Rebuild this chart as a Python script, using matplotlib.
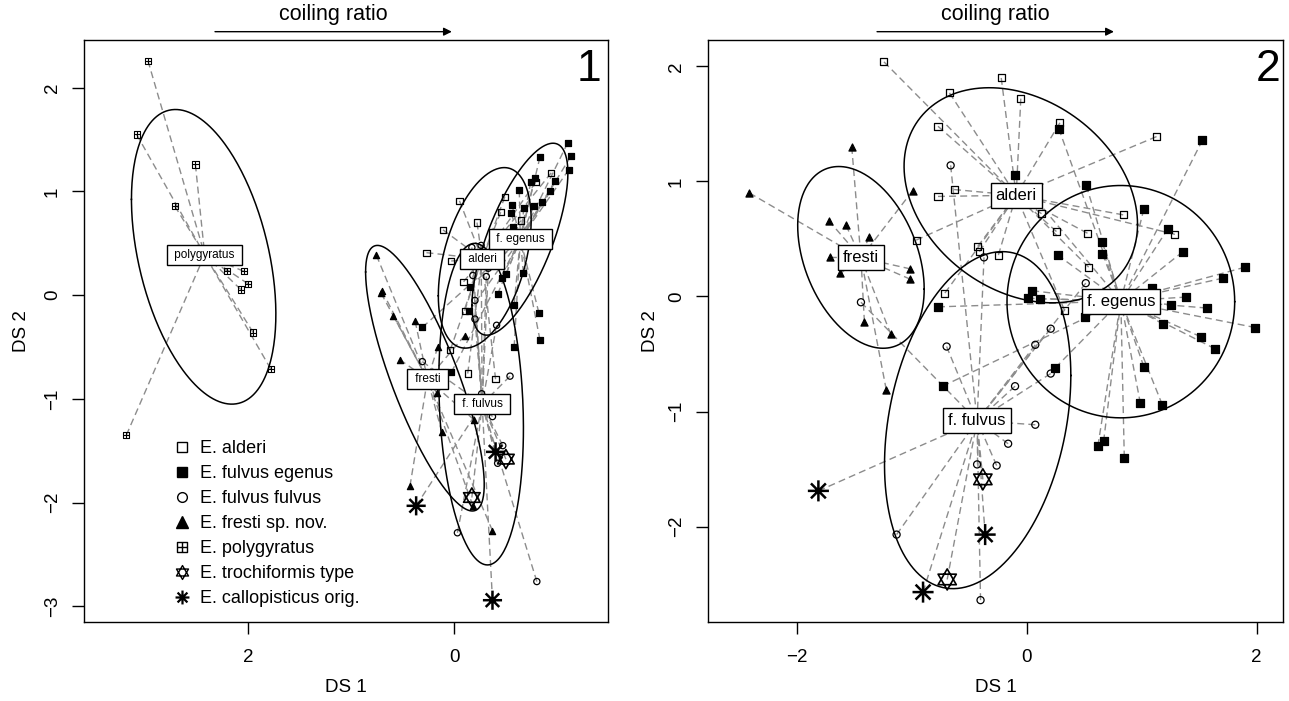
import numpy as np
import matplotlib
matplotlib.use("Agg")
import matplotlib.pyplot as plt
from matplotlib.path import Path
from matplotlib.lines import Line2D

plt.rcParams['font.family'] = ['Liberation Sans', 'DejaVu Sans']

## Panel 1 values
p1_alderi_x = [-0.94, -0.79, -0.49, -0.45, -0.05, -0.22, 0.11, -0.65, 0.27, 0.03, -0.09, -0.10, 0.04, -0.13, -0.40]
p1_alderi_y = [1.18, 1.09, 0.95, 0.80, 0.91, 0.70, 0.63, 0.72, 0.41, 0.33, 0.13, -0.15, -0.53, -0.755, -0.81]
p1_egenus_x = [-1.10, -1.13, -1.11, -0.83, -0.78, -0.74, -0.975, -0.93, -0.63, -0.56, -0.55, -0.77, -0.675, -0.85,
               -0.57, -0.15, -0.145, -0.46, -0.50, -0.67, -0.42, -0.58, -0.82, -0.83, -0.58, 0.31, 0.03]
p1_egenus_y = [1.47, 1.34, 1.21, 1.33, 1.13, 1.09, 1.10, 1.00, 1.01, 0.865, 0.79, 0.86, 0.845, 0.90,
               0.66, 0.08, -0.15, 0.17, 0.20, 0.215, 0.01, -0.09, -0.17, -0.43, -0.50, -0.31, -0.745]
p1_fulvus_x = [-0.18, -0.31, -0.33, -0.20, -0.20, -0.41, -0.17, -0.26, 0.31, -0.54, -0.265, -0.37, -0.47, -0.42, -0.03, -0.80]
p1_fulvus_y = [0.19, 0.18, 0.26, -0.05, -0.23, -0.29, 0.46, 0.48, -0.64, -0.78, -0.95, -1.17, -1.45, -1.62, -2.29, -2.76]
p1_fresti_x = [0.755, 0.70, 0.71, 0.59, 0.38, 0.53, 0.16, -0.10, 0.17, -0.19, 0.12, 0.43, -0.18, -0.37]
p1_fresti_y = [0.385, 0.04, 0.02, -0.20, -0.25, -0.62, -0.50, -0.39, -0.94, -1.20, -1.32, -1.84, -2.03, -2.27]
p1_poly_x = [2.97, 3.08, 2.51, 2.71, 2.20, 2.04, 2.00, 2.07, 1.95, 1.78, 3.18]
p1_poly_y = [2.26, 1.55, 1.26, 0.86, 0.23, 0.23, 0.11, 0.055, -0.36, -0.71, -1.35]
p1_troch_x = [-0.50, -0.17]
p1_troch_y = [-1.58, -1.95]
p1_callo_x = [-0.40, 0.37, -0.37]
p1_callo_y = [-1.51, -2.03, -2.94]
# group centroids (where the labels sit)
p1_centroids = {'polygyratus': (2.42, 0.39), 'fresti': (0.26, -0.81), 'alderi': (-0.27, 0.35),
                'egenus': (-0.64, 0.54), 'fulvus': (-0.27, -1.05)}
# ellipses: centre x, centre y, half width, half height, tilt (x shift of top point / half width)
p1_ellipses = [(2.43, 0.37, 0.70, 1.42, 0.39), (0.285, -0.80, 0.575, 1.28, 0.80), (-0.295, 0.36, 0.45, 0.87, -0.42),
               (-0.636, 0.54, 0.465, 0.925, -0.69), (-0.26, -1.05, 0.41, 1.55, 0.15)]

## Panel 2 values
p2_alderi_x = [-1.24, -0.22, -0.67, -0.05, -0.77, 0.29, 1.13, -0.63, -0.77, 0.84, 0.13, 0.26, 0.53, 1.29, -0.96,
               -0.425, -0.41, -0.245, 0.54, -0.71, 0.33]
p2_alderi_y = [2.04, 1.90, 1.77, 1.72, 1.48, 1.51, 1.39, 0.93, 0.87, 0.71, 0.72, 0.565, 0.55, 0.54, 0.49,
               0.435, 0.39, 0.36, 0.255, 0.03, -0.12]
p2_egenus_x = [-0.10, 0.28, 1.53, 0.52, 1.02, 1.23, 1.36, 0.66, 0.66, 0.27, 1.90, 1.71, 0.05, 0.01, 0.115, 1.09, 1.39,
               1.255, 1.565, 1.99, 0.51, 1.19, 1.515, -0.77, 1.64, 0.25, 1.02, -0.73, 0.99, 1.18, 0.62, 0.67, 0.85]
p2_egenus_y = [1.06, 1.46, 1.36, 0.965, 0.76, 0.59, 0.39, 0.47, 0.37, 0.36, 0.255, 0.16, 0.05, -0.015, -0.02, 0.075, -0.005,
               -0.07, -0.10, -0.27, -0.18, -0.24, -0.35, -0.09, -0.455, -0.62, -0.61, -0.78, -0.93, -0.94, -1.30, -1.26, -1.40]
p2_fulvus_x = [-0.66, -0.37, -1.44, 0.515, 0.21, 0.076, -0.695, 0.21, -0.10, 0.076, -0.16, -0.26, -0.43, -1.13, -0.40]
p2_fulvus_y = [1.14, 0.34, -0.05, 0.116, -0.28, -0.42, -0.435, -0.67, -0.78, -1.115, -1.28, -1.47, -1.46, -2.07, -2.64]
p2_fresti_x = [-2.41, -1.52, -0.99, -1.72, -1.57, -1.37, -1.71, -1.62, -1.01, -1.01, -1.41, -1.18, -1.22]
p2_fresti_y = [0.90, 1.30, 0.92, 0.66, 0.62, 0.52, 0.34, 0.20, 0.24, 0.15, -0.22, -0.33, -0.81]
p2_troch_x = [-0.38, -0.69]
p2_troch_y = [-1.59, -2.46]
p2_callo_x = [-1.81, -0.36, -0.90]
p2_callo_y = [-1.69, -2.07, -2.57]
p2_centroids = {'fresti': (-1.44, 0.336), 'alderi': (-0.09, 0.88), 'egenus': (0.82, -0.04), 'fulvus': (-0.43, -1.08)}
p2_ellipses = [(-0.05, 0.88, 1.015, 0.935, -0.27), (-1.44, 0.34, 0.55, 0.79, -0.35),
               (-0.425, -1.075, 0.81, 1.465, 0.265), (0.82, -0.045, 0.99, 1.01, 0.0)]

centroid_labels = {'polygyratus': 'polygyratus', 'fresti': 'fresti', 'alderi': 'alderi',
                   'egenus': 'f. egenus', 'fulvus': 'f. fulvus'}
legend_labels = ['E. alderi', 'E. fulvus egenus', 'E. fulvus fulvus', 'E. fresti sp. nov.',
                 'E. polygyratus', 'E. trochiformis type', 'E. callopisticus orig.']

# R style symbols: square with plus, star of David, asterisk
MO, LI, CL = Path.MOVETO, Path.LINETO, Path.CLOSEPOLY
sq_plus = Path([(-1, -1), (1, -1), (1, 1), (-1, 1), (-1, -1), (0, -1), (0, 1), (-1, 0), (1, 0)],
               [MO, LI, LI, LI, CL, MO, LI, MO, LI])
david = Path([(0, 1), (-0.866, -0.5), (0.866, -0.5), (0, 1), (0, -1), (0.866, 0.5), (-0.866, 0.5), (0, -1)],
             [MO, LI, LI, CL, MO, LI, LI, CL])
asterisk = Path([(-1, 0), (1, 0), (0, -1), (0, 1), (-0.707, -0.707), (0.707, 0.707), (-0.707, 0.707), (0.707, -0.707)],
                [MO, LI, MO, LI, MO, LI, MO, LI])

styles = {
    'alderi': dict(marker='s', fc='none', lw=0.9),
    'egenus': dict(marker='s', fc='black', lw=0.9),
    'fulvus': dict(marker='o', fc='none', lw=0.9),
    'fresti': dict(marker='^', fc='black', lw=0.9),
    'polygyratus': dict(marker=sq_plus, fc='none', lw=0.8),
    'trochiformis': dict(marker=david, fc='none', lw=1.2),
    'callopisticus': dict(marker=asterisk, fc='none', lw=1.8),
}


def ellipse_xy(cx, cy, hx, hy, r):
    t = np.linspace(0, 2 * np.pi, 300)
    x = cx + hx * np.cos(t)
    y = cy + hy * (r * np.cos(t) + np.sqrt(1 - r * r) * np.sin(t))
    return x, y


def draw_panel(ax, groups, centroids, ellipses, msize, bigsize, lab_fs, lab_pad, spaced):
    # dashed lines from each specimen to its group centroid
    for name, (xs, ys) in groups.items():
        cx, cy = centroids[name] if name in centroids else centroids['fulvus']
        for x, y in zip(xs, ys):
            ax.plot([x, cx], [y, cy], color='#8c8c8c', lw=1.0, ls=(0, (5, 3)), zorder=1)
    for e in ellipses:
        ex, ey = ellipse_xy(*e)
        ax.plot(ex, ey, color='black', lw=1.1, zorder=2)
    for name, (xs, ys) in groups.items():
        st = styles[name]
        s = bigsize if name in ('trochiformis', 'callopisticus') else msize
        ax.scatter(xs, ys, s=s, marker=st['marker'], facecolors=st['fc'], edgecolors='black',
                   linewidths=st['lw'], zorder=3)
    for name, (cx, cy) in centroids.items():
        txt = centroid_labels[name]
        if spaced:
            txt = ' ' + txt + ' '
        ax.text(cx, cy, txt, ha='center', va='center', fontsize=lab_fs, zorder=5,
                bbox=dict(boxstyle='square,pad=%s' % lab_pad, fc='white', ec='black', lw=1.0))
    for sp in ax.spines.values():
        sp.set_linewidth(1.0)
    ax.tick_params(direction='out', length=8.5, width=1, labelsize=13.5)
    ax.tick_params(axis='x', pad=11)
    ax.tick_params(axis='y', pad=8, labelrotation=90)
    for lab in ax.get_yticklabels():
        lab.set_va('center')
    ax.set_xlabel('DS 1', fontsize=13.5)
    ax.set_ylabel('DS 2', fontsize=13.5)
    ax.xaxis.label.set_va('center')
    ax.yaxis.label.set_va('center')


fig = plt.figure(figsize=(12.89, 7.01), dpi=100)
ax1 = fig.add_axes([0.06517, 0.1127, 0.40652, 0.83024])
ax2 = fig.add_axes([0.54926, 0.1127, 0.44608, 0.83024])

groups1 = {'alderi': (p1_alderi_x, p1_alderi_y), 'egenus': (p1_egenus_x, p1_egenus_y),
           'fulvus': (p1_fulvus_x, p1_fulvus_y), 'fresti': (p1_fresti_x, p1_fresti_y),
           'polygyratus': (p1_poly_x, p1_poly_y), 'trochiformis': (p1_troch_x, p1_troch_y),
           'callopisticus': (p1_callo_x, p1_callo_y)}
groups2 = {'alderi': (p2_alderi_x, p2_alderi_y), 'egenus': (p2_egenus_x, p2_egenus_y),
           'fulvus': (p2_fulvus_x, p2_fulvus_y), 'fresti': (p2_fresti_x, p2_fresti_y),
           'trochiformis': (p2_troch_x, p2_troch_y), 'callopisticus': (p2_callo_x, p2_callo_y)}

ax1.set_xlim(3.59, -1.49)
ax1.set_ylim(-3.15, 2.46)
ax1.set_xticks([2, 0])
ax1.set_yticks([-3, -2, -1, 0, 1, 2])
draw_panel(ax1, groups1, p1_centroids, p1_ellipses, 20, 190, 8.5, 0.35, True)
ax1.xaxis.set_label_coords(0.5, -0.113)
ax1.yaxis.set_label_coords(-0.12, 0.5)

ax2.set_xlim(-2.77, 2.23)
ax2.set_ylim(-2.83, 2.23)
ax2.set_xticks([-2, 0, 2])
ax2.set_yticks([-2, -1, 0, 1, 2])
draw_panel(ax2, groups2, p2_centroids, p2_ellipses, 26, 230, 12, 0.3, False)
ax2.xaxis.set_label_coords(0.5, -0.113)
ax2.yaxis.set_label_coords(-0.1, 0.5)

# coiling ratio arrows and panel numbers
for ax, x0, x1, xt in [(ax1, 0.25, 0.702, 0.476), (ax2, 0.294, 0.706, 0.5)]:
    ax.annotate('', xy=(x1, 1.0143), xytext=(x0, 1.0143), xycoords='axes fraction',
                arrowprops=dict(arrowstyle='-|>', lw=1.0, color='black', mutation_scale=12,
                                shrinkA=0, shrinkB=0), annotation_clip=False)
    ax.text(xt, 1.043, 'coiling ratio', transform=ax.transAxes, ha='center', va='center', fontsize=15.5)
ax1.text(0.987, 0.985, '1', transform=ax1.transAxes, ha='right', va='top', fontsize=32)
ax2.text(0.996, 0.985, '2', transform=ax2.transAxes, ha='right', va='top', fontsize=32)

# legend of panel 1
leg_sizes = {'alderi': 7, 'egenus': 7, 'fulvus': 7, 'fresti': 8, 'polygyratus': 7.5,
             'trochiformis': 10, 'callopisticus': 10}
handles = []
for name in ['alderi', 'egenus', 'fulvus', 'fresti', 'polygyratus', 'trochiformis', 'callopisticus']:
    st = styles[name]
    handles.append(Line2D([], [], ls='none', marker=st['marker'], markersize=leg_sizes[name],
                          markerfacecolor=st['fc'], markeredgecolor='black',
                          markeredgewidth=1.0 if name != 'callopisticus' else 1.6))
ax1.legend(handles, legend_labels, loc='upper left', bbox_to_anchor=(0.17, 0.312), frameon=False,
           fontsize=13, borderpad=0, borderaxespad=0, handlelength=1.0, handletextpad=0.5,
           labelspacing=0.44)

fig.savefig('out.png', dpi=100)
